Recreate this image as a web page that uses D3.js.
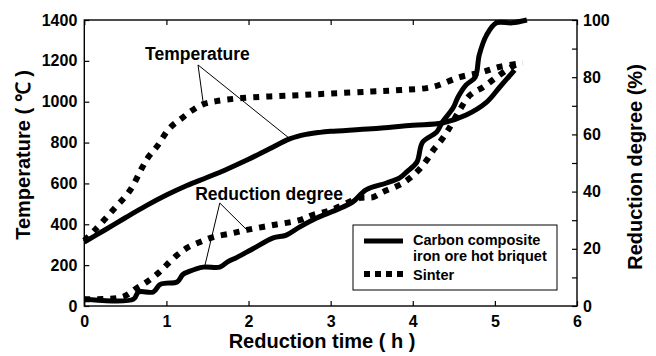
<!DOCTYPE html>
<html>
<head>
<meta charset="utf-8">
<script src="https://cdn.jsdelivr.net/npm/d3@7"></script>
<style>
  body { margin: 0; background: #fff; }
  svg text { font-family: "Liberation Sans", Arial, sans-serif; font-weight: bold; fill: #000; }
</style>
</head>
<body>
<svg id="chart" width="656" height="356"></svg>
<script>
// 数据：briquet = carbon composite iron ore hot briquet, sinter = sinter
const briquetTempTime = [0, 0.25, 0.5, 0.75, 1, 1.25, 1.5, 1.75, 2, 2.25, 2.5, 2.7, 2.87, 3, 3.5, 4, 4.36, 4.65, 4.9, 5.06, 5.24];
const briquetTemp     = [313, 372, 432, 490, 543, 590, 630, 672, 718, 768, 818, 840, 850, 855, 868, 885, 896, 935, 998, 1072, 1155];

const sinterTempTime = [0, 0.13, 0.35, 0.56, 0.7, 0.78, 0.88, 1.04, 1.19, 1.32, 1.45, 1.61, 1.92, 2.5, 3, 3.5, 3.85, 4.24, 4.57, 4.85, 5.05, 5.34];
const sinterTemp     = [320, 372, 470, 568, 674, 729, 778, 871, 920, 959, 988, 1003, 1018, 1030, 1040, 1050, 1057, 1072, 1120, 1145, 1170, 1189];

const briquetRedTime = [0, 0.6, 0.66, 0.84, 0.92, 1.0, 1.13, 1.2, 1.27, 1.45, 1.65, 1.75, 1.86, 2.02, 2.09, 2.3, 2.46, 2.62, 2.83, 3.07, 3.27, 3.43, 3.68, 3.84, 3.93, 4.05, 4.12, 4.29, 4.36, 4.49, 4.55, 4.65, 4.76, 4.81, 4.9, 5.02, 5.21, 5.39];
const briquetRed     = [2.4, 2.4, 4.9, 4.9, 7.5, 8, 8.4, 11, 12, 13.6, 13.6, 15.5, 17, 19.5, 20.6, 23.8, 24.8, 27.6, 30.8, 33.6, 36.4, 40.6, 43, 44.8, 47, 50.3, 57.3, 60.8, 64.3, 69.2, 73, 77.3, 80, 87.8, 94.8, 99, 99, 100];

const sinterRedTime = [0, 0.47, 0.64, 0.76, 0.9, 1.0, 1.13, 1.25, 1.41, 1.57, 1.81, 1.98, 2.3, 2.62, 2.78, 3.0, 3.36, 3.52, 3.64, 3.88, 4.05, 4.17, 4.25, 4.33, 4.43, 4.57, 4.7, 4.86, 5.02, 5.18, 5.3];
const sinterRed     = [2.4, 3.2, 6.3, 8.4, 11.5, 14.3, 17.8, 20.3, 22.4, 24.1, 25.5, 26.6, 28.3, 30, 31.8, 33.5, 37.8, 38.1, 39.9, 43, 46.9, 51, 54.5, 57.3, 61.5, 68.5, 73.8, 76.6, 80, 83.2, 85];

const timeTicks = [0, 1, 2, 3, 4, 5, 6];
const tempTicks = [0, 200, 400, 600, 800, 1000, 1200, 1400];
const redTicks = [0, 10, 20, 30, 40, 50, 60, 70, 80, 90, 100];
const redLabels = [0, 20, 40, 60, 80, 100];

const legendLabels = [["Carbon composite", "iron ore hot briquet"], ["Sinter"]];

const svg = d3.select('#chart');
const margin = { left: 84.3, right: 79, top: 20, bottom: 50 };
const W = 656, H = 356;

const x = d3.scaleLinear().domain([0, 6]).range([margin.left, W - margin.right]);
const yT = d3.scaleLinear().domain([0, 1400]).range([H - margin.bottom, margin.top]);
const yR = d3.scaleLinear().domain([0, 100]).range([H - margin.bottom, margin.top]);

// 坐标轴（刻度朝内）
const tickLen = 5;
const fmt = d3.format('d');
svg.append('g').attr('transform', `translate(${margin.left},0)`)
    .call(d3.axisLeft(yT).tickValues(tempTicks).tickSizeInner(-tickLen).tickSizeOuter(0).tickPadding(7).tickFormat(fmt))
    .call(g => g.selectAll('text').style('font-size', '16px'));
svg.append('g').attr('transform', `translate(${x(6)},0)`)
    .call(d3.axisRight(yR).tickValues(redTicks).tickSizeInner(-tickLen).tickSizeOuter(0).tickPadding(6)
        .tickFormat(d => redLabels.includes(d) ? fmt(d) : ''))
    .call(g => g.selectAll('text').style('font-size', '16px'));
svg.append('g').attr('transform', `translate(0,${yT(0)})`)
    .call(d3.axisBottom(x).tickValues(timeTicks).tickSizeInner(-tickLen).tickSizeOuter(0).tickPadding(9.5).tickFormat(fmt))
    .call(g => g.selectAll('text').style('font-size', '16px'));
svg.append('g').attr('transform', `translate(0,${yT(1400)})`)
    .call(d3.axisTop(x).tickValues(timeTicks).tickSizeInner(-tickLen).tickSizeOuter(0).tickFormat(''));
svg.selectAll('.domain').remove();
svg.selectAll('.tick line').attr('stroke', '#000').attr('stroke-width', 1.2);

svg.append('rect')
    .attr('x', x(0)).attr('y', yT(1400))
    .attr('width', x(6) - x(0)).attr('height', yT(0) - yT(1400))
    .attr('fill', 'none').attr('stroke', '#000').attr('stroke-width', 1.4);

// 曲线
const mkLine = (ys) => d3.line()
    .x(d => x(d[0])).y(d => ys(d[1]))
    .curve(d3.curveCatmullRom.alpha(0.5));
const zip = (a, b) => a.map((v, i) => [v, b[i]]);

const series = [
    { data: zip(briquetTempTime, briquetTemp), ys: yT, dotted: false },
    { data: zip(sinterTempTime, sinterTemp), ys: yT, dotted: true },
    { data: zip(briquetRedTime, briquetRed), ys: yR, dotted: false },
    { data: zip(sinterRedTime, sinterRed), ys: yR, dotted: true }
];
series.forEach(s => {
    svg.append('path')
        .attr('d', mkLine(s.ys)(s.data))
        .attr('fill', 'none')
        .attr('stroke', '#000')
        .attr('stroke-width', s.dotted ? 6 : 5)
        .attr('stroke-dasharray', s.dotted ? '6,7' : null)
        .attr('stroke-linecap', 'butt');
});

// 注释
const annotations = [
    { text: 'Temperature', t: 0.74, v: 1206, ys: yT, from: [1.385, 1180], to: [[1.445, 1003], [2.5, 820]] },
    { text: 'Reduction degree', t: 1.35, v: 37, ys: yR, from: [1.65, 36], to: [[1.47, 14.3], [1.98, 26.6]] }
];
annotations.forEach(a => {
    a.to.forEach(p => {
        svg.append('line')
            .attr('x1', x(a.from[0])).attr('y1', a.ys(a.from[1]))
            .attr('x2', x(p[0])).attr('y2', a.ys(p[1]))
            .attr('stroke', '#000').attr('stroke-width', 1);
    });
    svg.append('text')
        .attr('x', x(a.t)).attr('y', a.ys(a.v))
        .style('font-size', '17.5px')
        .text(a.text);
});

// 图例
const lg = svg.append('g');
lg.append('rect').attr('x', 353).attr('y', 225).attr('width', 204).attr('height', 65)
    .attr('fill', '#fff').attr('stroke', '#000').attr('stroke-width', 1);
lg.append('line').attr('x1', 364).attr('x2', 403).attr('y1', 241).attr('y2', 241)
    .attr('stroke', '#000').attr('stroke-width', 5);
lg.append('line').attr('x1', 364).attr('x2', 403).attr('y1', 274).attr('y2', 274)
    .attr('stroke', '#000').attr('stroke-width', 6).attr('stroke-dasharray', '6,5');
const legendY = [[245, 261], [280]];
legendLabels.forEach((lines, i) => {
    lines.forEach((l, j) => {
        lg.append('text').attr('x', 413).attr('y', legendY[i][j])
            .style('font-size', '14.5px').text(l);
    });
});

// 轴标题
svg.append('text')
    .attr('transform', `translate(23,155) rotate(-90)`)
    .attr('text-anchor', 'middle').attr('dominant-baseline', 'central')
    .style('font-size', '20px')
    .text('Temperature ( ℃ )');
svg.append('text')
    .attr('transform', `translate(635,167) rotate(-90)`)
    .attr('text-anchor', 'middle').attr('dominant-baseline', 'central')
    .style('font-size', '20px')
    .text('Reduction degree (%)');
svg.append('text')
    .attr('x', 322).attr('y', 348)
    .attr('text-anchor', 'middle')
    .style('font-size', '20px')
    .text('Reduction time ( h )');
</script>
</body>
</html>
